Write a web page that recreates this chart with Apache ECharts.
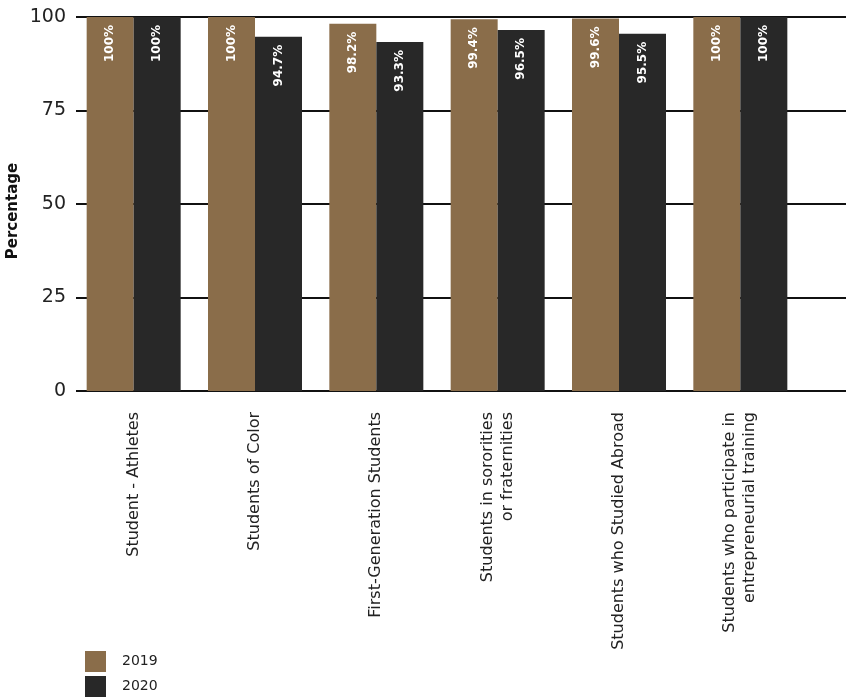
<!DOCTYPE html>
<html>
<head>
<meta charset="utf-8">
<script src="https://cdn.jsdelivr.net/npm/echarts@6/dist/echarts.min.js"></script>
<style>
  html, body { margin: 0; padding: 0; background: #fff; }
  #chart { width: 853px; height: 698px; }
</style>
</head>
<body>
<div id="chart"></div>
<script>
const categories = [
  'Student - Athletes',
  'Students of Color',
  'First-Generation Students',
  'Students in sororities\nor fraternities',
  'Students who Studied Abroad',
  'Students who participate in\nentrepreneurial training'
]
const years = ['2019', '2020']
const values2019 = [100, 100, 98.2, 99.4, 99.6, 100]
const values2020 = [100, 94.7, 93.3, 96.5, 95.5, 100]
const yTicks = [0, 25, 50, 75, 100]

const font = '"DejaVu Sans", "Open Sans", sans-serif'
const colors = ['#8a6d4a', '#282828']

const chart = echarts.init(document.getElementById('chart'))

const barLabel = {
  show: true,
  position: 'insideTop',
  distance: 8,
  rotate: 90,
  align: 'right',
  verticalAlign: 'middle',
  color: '#fff',
  fontFamily: font,
  fontWeight: 'bold',
  fontSize: 12,
  formatter: (p) => p.value + '%',
}

chart.setOption({
  animation: false,
  backgroundColor: '#fff',
  color: colors,
  grid: [
    // wide grid carrying the gridlines and y labels
    { left: 76, right: 7, top: 17, bottom: 307, outerBoundsMode: 'none' },
    // narrower grid holding the bars
    { left: 73, right: 52, top: 17, bottom: 307, outerBoundsMode: 'none' },
  ],
  legend: {
    data: years,
    orient: 'vertical',
    left: 85,
    top: 651,
    padding: 0,
    icon: 'rect',
    itemWidth: 21,
    itemHeight: 21,
    itemGap: 4,
    textStyle: { color: '#222', fontSize: 14, fontFamily: font, padding: [0, 0, 0, 11] },
  },
  xAxis: [
    { gridIndex: 0, type: 'value', min: 0, max: 1, show: false },
    {
      gridIndex: 1,
      type: 'category',
      data: categories,
      axisLine: { show: false },
      axisTick: { show: false },
      axisLabel: {
        rotate: 90,
        margin: 21,
        interval: 0,
        color: '#222',
        fontSize: 16,
        lineHeight: 20,
        fontFamily: font,
      },
    },
  ],
  yAxis: [
    {
      gridIndex: 0,
      type: 'value',
      min: yTicks[0],
      max: yTicks[yTicks.length - 1],
      interval: 25,
      name: 'Percentage',
      nameLocation: 'middle',
      nameGap: 55,
      nameMoveOverlap: false,
      nameTextStyle: {
        color: '#111',
        fontSize: 15,
        fontWeight: 'bold',
        fontFamily: font,
        padding: [0, 14, 0, 0],
      },
      axisLine: { show: false },
      axisTick: { show: false },
      axisLabel: { color: '#222', fontSize: 19, margin: 10, fontFamily: font },
      splitLine: { lineStyle: { color: '#111', width: 2 } },
    },
    { gridIndex: 1, type: 'value', min: 0, max: 100, show: false },
  ],
  series: [
    {
      name: years[0],
      type: 'bar',
      xAxisIndex: 1,
      yAxisIndex: 1,
      barWidth: 47,
      barGap: '0%',
      data: values2019,
      label: barLabel,
    },
    {
      name: years[1],
      type: 'bar',
      xAxisIndex: 1,
      yAxisIndex: 1,
      barWidth: 47,
      barGap: '0%',
      data: values2020,
      label: barLabel,
    },
  ],
})
</script>
</body>
</html>
